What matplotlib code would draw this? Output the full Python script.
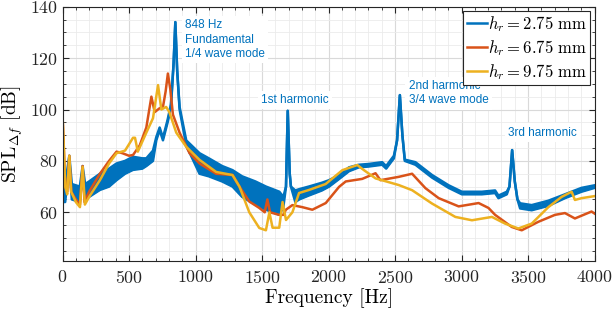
import matplotlib
matplotlib.use('Agg')
import matplotlib.pyplot as plt
from matplotlib.ticker import MultipleLocator

plt.rcParams['font.family'] = 'cmr10'
plt.rcParams['mathtext.fontset'] = 'cm'
plt.rcParams['axes.formatter.use_mathtext'] = True

# colores por defecto de matlab
c_azul = '#0072BD'
c_naranja = '#D95319'
c_amarillo = '#EDB120'

# h_r = 2.75 mm (banda de ruido: lo / hi)
f_azul = [0, 20, 51, 70, 130, 151, 170, 200, 281, 350, 406, 470, 530, 600, 630,
          680, 705, 730, 755, 790, 815, 835, 848, 862, 880, 930, 1030, 1100,
          1200, 1278, 1350, 1450, 1530, 1630, 1660, 1680, 1693, 1708, 1717,
          1750, 1779, 1850, 1950, 2004, 2080, 2154, 2228, 2300, 2403, 2433,
          2491, 2515, 2536, 2555, 2573, 2653, 2778, 2903, 3002, 3152, 3252,
          3277, 3340, 3360, 3380, 3400, 3420, 3440, 3527, 3652, 3777, 3901, 4000]
spl_azul_lo = [64, 64, 80, 65, 64, 76, 65, 66, 68.7, 70, 72.5, 75, 76.5, 77, 78,
               80, 88, 92, 88, 95, 101, 118, 134, 115, 100, 86, 75, 74,
               72, 70, 66, 63, 61, 59, 62, 70, 99.5, 75, 70,
               64, 65, 66.5, 68.5, 70, 73, 76, 77.5, 77.8, 78.5, 77,
               81, 88, 105.6, 90, 80, 78.5, 73.5, 69.5, 67, 67, 67.5,
               65.5, 67, 70, 84.2, 72, 65, 61.5, 60.8, 62.5, 65.5, 68, 69.5]
spl_azul_hi = [72, 71, 82, 71, 70, 78, 71, 72, 75, 77, 79, 80, 81.6, 81, 81,
               84, 89.3, 93, 89, 96, 102, 118, 134, 115, 101, 88, 83, 81,
               78, 76.4, 74, 72, 70, 68, 66, 70, 99.5, 75, 70,
               68.5, 69, 70, 71.5, 72.5, 74.5, 77.5, 78.5, 78.8, 79.5, 78,
               82, 88, 105.6, 90, 80.5, 79.5, 74.5, 70.5, 68, 68, 68.5,
               66.5, 68, 70, 84.2, 72, 65, 63.5, 62.8, 64.5, 67, 69.5, 70.5]

# h_r = 6.75 mm
f_naranja = [0, 10, 20, 35, 51, 65, 100, 131, 151, 165, 200, 281, 350, 406, 450,
             500, 530, 580, 630, 668, 693, 730, 755, 775, 792, 810, 830, 880,
             955, 1030, 1155, 1278, 1330, 1404, 1479, 1520, 1540, 1560, 1629,
             1660, 1679, 1728, 1803, 1878, 1979, 2079, 2129, 2253, 2353, 2390,
             2528, 2628, 2728, 2828, 2978, 3128, 3202, 3252, 3377, 3452, 3577,
             3702, 3777, 3852, 3977, 4000]
spl_naranja = [97.5, 85, 70, 68, 82, 68, 65, 63, 78, 64, 68, 75, 80, 83.6, 83,
               82, 82.3, 86, 93, 105, 99, 100.5, 101, 107, 114, 108, 98, 91,
               83, 79, 75, 74.5, 70, 64.2, 61.7, 60, 65, 60, 59,
               59, 61, 62.8, 62, 61, 63.6, 69.9, 72, 73, 75.2, 72.5,
               73.8, 75, 69.4, 65.5, 62.3, 63.6, 61.7, 59, 54.3, 53, 56.3,
               59, 59.7, 57.6, 60.3, 59.5]

# h_r = 9.75 mm
f_amarillo = [0, 10, 20, 35, 51, 65, 100, 131, 151, 168, 200, 281, 350, 406, 470,
              530, 545, 566, 630, 680, 718, 743, 779, 803, 855, 930, 1030, 1155,
              1278, 1330, 1404, 1479, 1529, 1555, 1579, 1629, 1654, 1680, 1728,
              1778, 1853, 1978, 2104, 2216, 2266, 2353, 2528, 2628, 2778, 2953,
              3078, 3228, 3327, 3427, 3527, 3652, 3752, 3827, 3852, 3902, 4000]
spl_amarillo = [98, 85, 70, 67, 82, 68, 64, 62, 77.7, 63, 66, 72.5, 79, 83, 84,
                89, 89, 83.6, 91, 96.6, 109.5, 100, 101, 99, 91, 85.5, 80.4, 75.7,
                74.5, 70, 60, 53.9, 53, 60, 54, 54, 64, 57, 60,
                67.5, 68.7, 71, 76.4, 78.4, 76.4, 73.2, 70.6, 68.6, 63.4, 58.2,
                56.9, 58.2, 55.6, 53.7, 55.6, 62, 66, 68, 64.8, 65.5, 66.3]

etiquetas = [r'$h_r = 2.75\ \mathrm{mm}$', r'$h_r = 6.75\ \mathrm{mm}$',
             r'$h_r = 9.75\ \mathrm{mm}$']

fig = plt.figure(figsize=(6.13, 3.2), dpi=100)
ax = fig.add_axes([0.102, 0.184, 0.868, 0.795])

ax.fill_between(f_azul, spl_azul_lo, spl_azul_hi, color=c_azul, lw=0)
ax.plot(f_azul, spl_azul_hi, color=c_azul, lw=1.8, label=etiquetas[0])
ax.plot(f_azul, spl_azul_lo, color=c_azul, lw=1.8)
ax.plot(f_naranja, spl_naranja, color=c_naranja, lw=1.8, label=etiquetas[1])
ax.plot(f_amarillo, spl_amarillo, color=c_amarillo, lw=1.8, label=etiquetas[2])

ax.set_xlim(0, 4000)
ax.set_ylim(41, 140)
ax.set_yticks([60, 80, 100, 120, 140])
ax.xaxis.set_major_locator(MultipleLocator(500))
ax.xaxis.set_minor_locator(MultipleLocator(100))
ax.yaxis.set_minor_locator(MultipleLocator(5))
ax.grid(which='major', color='#d9d9d9', lw=0.8)
ax.grid(which='minor', color='#ebebeb', lw=0.6)
ax.set_axisbelow(True)
ax.tick_params(which='both', direction='in', top=True, right=True, colors='#262626',
               labelsize=12.8)
ax.tick_params(which='major', length=4)
ax.tick_params(which='minor', length=2)
ax.tick_params(axis='x', pad=6)
ax.tick_params(axis='y', pad=3)
for s in ax.spines.values():
    s.set_color('#262626')
    s.set_linewidth(0.8)

ax.set_xlabel('Frequency [Hz]', fontsize=14)
ax.set_ylabel(r'SPL$_{\Delta f}$ [dB]', fontsize=14)
ax.xaxis.set_label_coords(0.5, -0.105)
ax.yaxis.set_label_coords(-0.07, 0.5)

cajita = dict(facecolor='white', edgecolor='none', pad=2.5)
txt = dict(color=c_azul, fontsize=8.5, family='Liberation Sans', ha='left',
           va='center', linespacing=1.25, bbox=cajita)
ax.text(921, 127.2, '848 Hz\nFundamental\n1/4 wave mode', **txt)
ax.text(1494, 103.7, '1st harmonic', **txt)
ax.text(2603, 106.4, '2nd harmonic\n3/4 wave mode', **txt)
ax.text(3352, 90.9, '3rd harmonic', **txt)

leg = ax.legend(loc='upper right', fontsize=12, handlelength=1.2, handletextpad=0.1,
                borderpad=0.2, labelspacing=0.25, borderaxespad=0.25, fancybox=False,
                framealpha=1)
leg.get_frame().set_edgecolor('#262626')
leg.get_frame().set_linewidth(0.8)

fig.savefig('out.png', dpi=100)
